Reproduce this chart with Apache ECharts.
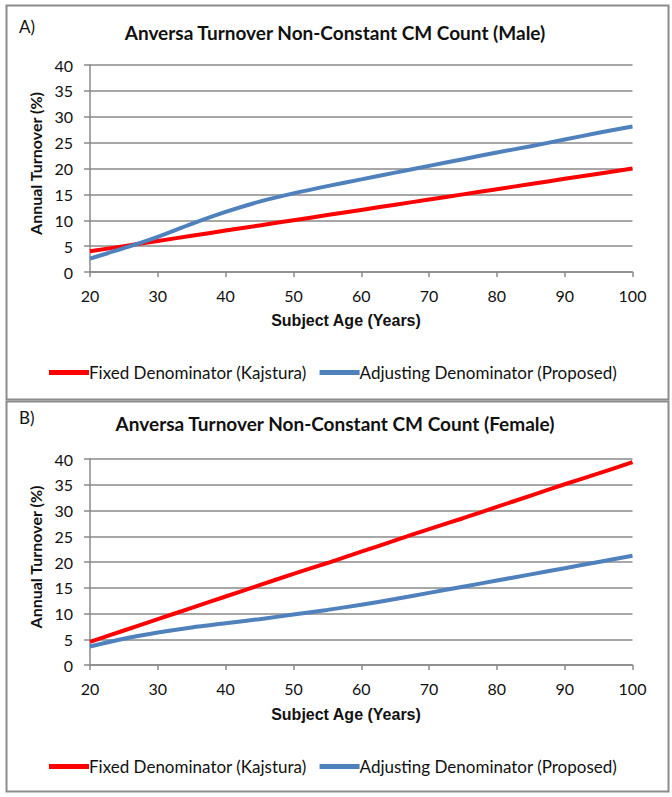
<!DOCTYPE html>
<html>
<head>
<meta charset="utf-8">
<script src="https://cdn.jsdelivr.net/npm/echarts@6/dist/echarts.min.js"></script>
<style>
html,body{margin:0;padding:0;background:#fff;}
#chart{width:672px;height:797px;}
</style>
</head>
<body>
<div id="chart"></div>
<script>
// ---- data ----
const ages = [20, 25, 30, 35, 40, 45, 50, 55, 60, 65, 70, 75, 80, 85, 90, 95, 100];
const maleFixed = [4.0, 5.0, 6.0, 7.0, 8.0, 9.0, 10.0, 11.0, 12.0, 13.0, 14.0, 15.0, 16.0, 17.0, 18.0, 19.0, 20.0];
const maleAdjusting = [2.6, 4.6, 6.8, 9.3, 11.6, 13.6, 15.2, 16.6, 17.9, 19.2, 20.5, 21.8, 23.1, 24.3, 25.6, 26.9, 28.1];
const femaleFixed = [4.5, 6.7, 8.9, 11.1, 13.3, 15.5, 17.7, 19.8, 22.0, 24.2, 26.4, 28.5, 30.7, 32.9, 35.1, 37.2, 39.4];
const femaleAdjusting = [3.6, 5.1, 6.3, 7.3, 8.1, 8.9, 9.8, 10.7, 11.7, 12.8, 14.0, 15.2, 16.4, 17.6, 18.8, 20.0, 21.2];
const seriesNames = ['Fixed Denominator (Kajstura)', 'Adjusting Denominator (Proposed)'];
const panelTitles = ['Anversa Turnover Non-Constant CM Count (Male)', 'Anversa Turnover Non-Constant CM Count (Female)'];
const panelLetters = ['A)', 'B)'];
const xName = 'Subject Age (Years)';
const yName = 'Annual Turnover (%)';

// ---- styling ----
const RED = '#ff0000';
const BLUE = '#4f81bd';
const GRID = '#8a8a8a';
const FONT = 'Lato, "Open Sans", sans-serif';

const pairs = (xs, ys) => xs.map((x, i) => [x, ys[i]]);

const gridTops = [65, 459];
const panelTops = [3, 399];
const panelHeights = [394, 390];
const letterTops = [18, 409];
const titleYs = [32, 423];
const xNameYs = [320, 714];
const legendTops = [359, 753];

function xAxis(i) {
  return {
    type: 'value', gridIndex: i, min: 20, max: 100, interval: 10,
    axisLine: {show: true, lineStyle: {color: GRID, width: 1.5}},
    axisTick: {show: true, length: 5, lineStyle: {color: GRID, width: 1.5}},
    axisLabel: {color: '#111', fontFamily: FONT, fontSize: 16, margin: 15},
    splitLine: {show: false}
  };
}
function yAxis(i) {
  return {
    type: 'value', gridIndex: i, min: 0, max: 40, interval: 5,
    name: yName, nameLocation: 'middle', nameGap: 45, nameRotate: 90,
    nameTextStyle: {color: '#111', fontFamily: FONT, fontSize: 16, fontWeight: 'bold', padding: [0, 0, 0, 10]},
    axisLine: {show: true, lineStyle: {color: GRID, width: 1.5}},
    axisTick: {show: true, length: 6, lineStyle: {color: GRID, width: 1.5}},
    axisLabel: {color: '#111', fontFamily: FONT, fontSize: 16, margin: 17},
    splitLine: {show: true, lineStyle: {color: GRID, width: 1.5}}
  };
}
function line(name, color, data, i) {
  return {
    name: name, type: 'line', xAxisIndex: i, yAxisIndex: i,
    data: data, smooth: 0.3, showSymbol: false, symbol: 'none',
    lineStyle: {color: color, width: 4}, itemStyle: {color: color},
    emphasis: {disabled: true}
  };
}

const graphics = [];
for (let i = 0; i < 2; i++) {
  graphics.push({
    type: 'rect', left: 4, top: panelTops[i], silent: true,
    shape: {width: 662, height: panelHeights[i]},
    style: {fill: 'none', stroke: '#8c8c8c', lineWidth: 2}
  });
  graphics.push({
    type: 'text', left: 19, top: letterTops[i],
    style: {text: panelLetters[i], font: '17px ' + FONT, fill: '#111'}
  });
  graphics.push({
    type: 'text', x: 335, y: titleYs[i],
    style: {text: panelTitles[i], font: 'bold 19px ' + FONT, fill: '#111', textAlign: 'center', textVerticalAlign: 'middle'}
  });
  graphics.push({
    type: 'text', x: 346, y: xNameYs[i],
    style: {text: xName, font: 'bold 16px "Liberation Sans", Arial, sans-serif', fill: '#111', textAlign: 'center', textVerticalAlign: 'middle'}
  });
}

const legendStyle = (top) => ({
  top: top, left: 44, data: seriesNames,
  icon: 'rect', itemWidth: 40, itemHeight: 5, itemGap: 13,
  textStyle: {color: '#111', fontFamily: FONT, fontSize: 17, padding: [0, 0, 0, -5]},
  selectedMode: false
});

const option = {
  animation: false,
  backgroundColor: '#fff',
  grid: [
    {left: 90, right: 39.5, top: gridTops[0], height: 207},
    {left: 90, right: 39.5, top: gridTops[1], height: 206}
  ],
  xAxis: [xAxis(0), xAxis(1)],
  yAxis: [yAxis(0), yAxis(1)],
  legend: [legendStyle(legendTops[0]), legendStyle(legendTops[1])],
  series: [
    line(seriesNames[0], RED, pairs(ages, maleFixed), 0),
    line(seriesNames[1], BLUE, pairs(ages, maleAdjusting), 0),
    line(seriesNames[0], RED, pairs(ages, femaleFixed), 1),
    line(seriesNames[1], BLUE, pairs(ages, femaleAdjusting), 1)
  ],
  graphic: graphics
};

const chart = echarts.init(document.getElementById('chart'), null, {renderer: 'svg'});
chart.setOption(option);
</script>
</body>
</html>
